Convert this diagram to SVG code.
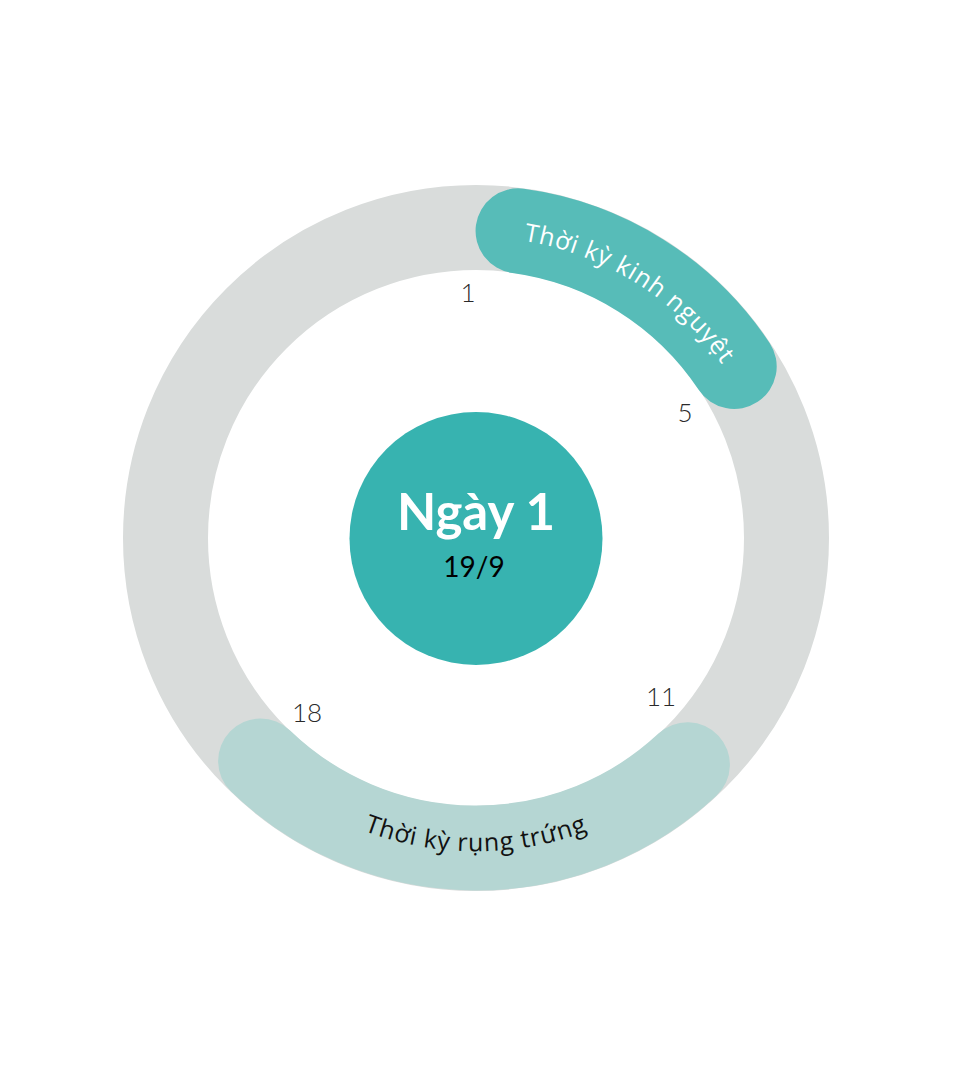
<svg xmlns="http://www.w3.org/2000/svg" xmlns:xlink="http://www.w3.org/1999/xlink" width="971" height="1079" viewBox="0 0 971 1079">
<style>
.arc{fill:none;stroke-width:85;stroke-linecap:round}
.num{font-family:Lato,"Liberation Sans",sans-serif;font-weight:300;font-size:26px;fill:#2a2a2a;text-anchor:middle}
.lbl{font-family:"Open Sans","Liberation Sans",sans-serif;font-size:25px;letter-spacing:0.8px}
</style>
<defs>
<path id="tp1" d="M486.5,237.2 A301,301 0 0 1 741.8,396.7"/>
<path id="tp2" d="M235.5,739.8 A315,315 0 0 0 716.5,739.8"/>
</defs>
<rect width="971" height="1079" fill="#ffffff"/>
<g id="ring">
<circle cx="476" cy="538" r="310.5" fill="none" stroke="#d9dcdb" stroke-width="85"/>
</g>
<g id="menstruation">
<path class="arc" stroke="#57bcb8" d="M518.07,230.88 A310,310 0 0 1 734.2,366.45"/>
<text class="lbl" fill="#ffffff"><textPath xlink:href="#tp1" href="#tp1" startOffset="50%" text-anchor="middle">Thời kỳ kinh nguyệt</textPath></text>
</g>
<g id="ovulation">
<path class="arc" stroke="#b5d6d3" d="M687.4,764.7 A310,310 0 0 1 260.6,761.0"/>
<text class="lbl" fill="#111111"><textPath xlink:href="#tp2" href="#tp2" startOffset="50%" text-anchor="middle">Thời kỳ rụng trứng</textPath></text>
</g>
<g id="center">
<circle cx="476" cy="538.5" r="126.5" fill="#37b3b0"/>
<text x="476" y="530" font-family="Lato,'Liberation Sans',sans-serif" font-weight="700" font-size="51" fill="#ffffff" text-anchor="middle">Ngày 1</text>
<text x="474" y="577" font-family="Lato,'Liberation Sans',sans-serif" font-size="28" fill="#000000" text-anchor="middle">19/9</text>
</g>
<g id="days">
<text class="num" x="468" y="302">1</text>
<text class="num" x="685" y="422">5</text>
<text class="num" x="661" y="706">11</text>
<text class="num" x="307" y="722">18</text>
</g>
</svg>
